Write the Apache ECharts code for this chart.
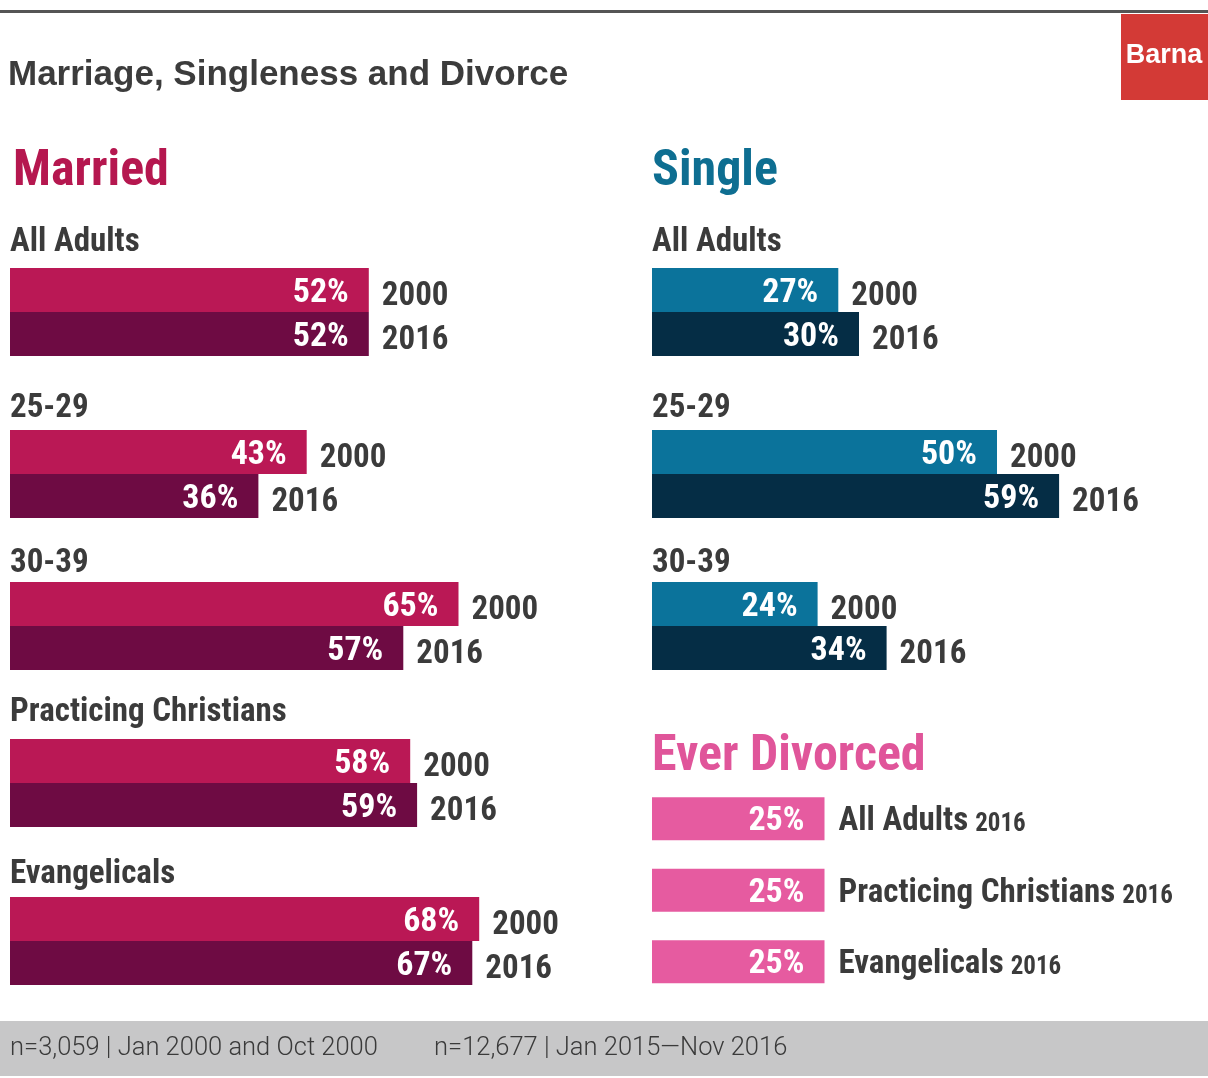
<!DOCTYPE html>
<html>
<head>
<meta charset="utf-8">
<script src="https://cdn.jsdelivr.net/npm/echarts@6/dist/echarts.min.js"></script>
<style>html,body{margin:0;padding:0;background:#fff}#c{width:1208px;height:1078px}</style>
</head>
<body>
<div id="c"></div>
<script>
// ---- data ----
const years = ['2000', '2016'];
const marriedGroups = ['All Adults', '25-29', '30-39', 'Practicing Christians', 'Evangelicals'];
const married2000 = [52, 43, 65, 58, 68];
const married2016 = [52, 36, 57, 59, 67];
const singleGroups = ['All Adults', '25-29', '30-39'];
const single2000 = [27, 50, 24];
const single2016 = [30, 59, 34];
const divorcedGroups = ['All Adults', 'Practicing Christians', 'Evangelicals'];
const divorced2016 = [25, 25, 25];
const divorcedYear = '2016';
const footerNotes = ['n=3,059 | Jan 2000 and Oct 2000', 'n=12,677 | Jan 2015\u2014Nov 2016'];

// ---- layout / style ----
const COND = "'Liberation Sans Narrow', 'Roboto Condensed', 'DejaVu Sans Condensed', sans-serif";
const DARK = '#3b3b3b';
const C = {
  m2000: '#BA1855', m2016: '#6E0B43',
  s2000: '#0B739B', s2016: '#052D45',
  div: '#E65BA0',
  mTitle: '#B5174F', sTitle: '#0E6E91', dTitle: '#E0559A'
};
const BAR_H = 44;
const AXIS_MAX = 80;
const SCALE_W = 552; // px for AXIS_MAX %
const marriedTops = [268, 430, 582, 739, 897];
const marriedLabelY = [243, 409, 564, 713, 875];
const singleTops = [268, 430, 582];
const singleLabelY = [243, 409, 564];

const grids = [], xAxes = [], yAxes = [], series = [], graphics = [];

function addGroup(left, top, v2000, v2016, c2000, c2016) {
  const gi = grids.length;
  grids.push({ left: left, top: top, width: SCALE_W, height: BAR_H * 2, containLabel: false });
  xAxes.push({ gridIndex: gi, type: 'value', min: 0, max: AXIS_MAX, show: false });
  yAxes.push({ gridIndex: gi, type: 'category', data: years, inverse: true, show: false });
  series.push({
    type: 'bar', xAxisIndex: gi, yAxisIndex: gi, barWidth: BAR_H, barGap: '-100%',
    data: [{ value: v2000, itemStyle: { color: c2000 } }, { value: v2016, itemStyle: { color: c2016 } }],
    label: { show: true, position: 'insideRight', distance: 20, formatter: '{c}%', color: '#fff',
      fontFamily: COND, fontWeight: 'bold', fontSize: 34, offset: [0, 3] },
    silent: true, animation: false
  });
  series.push({
    type: 'bar', xAxisIndex: gi, yAxisIndex: gi, barWidth: BAR_H, barGap: '-100%',
    data: [v2000, v2016], itemStyle: { color: 'rgba(0,0,0,0)' },
    label: { show: true, position: 'right', distance: 13, formatter: '{b}', color: DARK,
      fontFamily: COND, fontWeight: 'bold', fontSize: 33, offset: [0, 7] },
    silent: true, animation: false
  });
}

function txt(x, y, text, size, color, family, weight, align) {
  graphics.push({ type: 'text', silent: true, style: {
    x: x, y: y, text: text, fill: color, align: align || 'left', verticalAlign: 'middle',
    font: (weight || 'bold') + ' ' + size + 'px ' + family } });
}

marriedGroups.forEach((g, i) => {
  addGroup(10, marriedTops[i], married2000[i], married2016[i], C.m2000, C.m2016);
  txt(10, marriedLabelY[i], g, 33, DARK, COND);
});
singleGroups.forEach((g, i) => {
  addGroup(652, singleTops[i], single2000[i], single2016[i], C.s2000, C.s2016);
  txt(652, singleLabelY[i], g, 33, DARK, COND);
});

// divorced
(function () {
  const gi = grids.length;
  grids.push({ left: 652, top: 783, width: SCALE_W, height: 214.5 });
  xAxes.push({ gridIndex: gi, type: 'value', min: 0, max: AXIS_MAX, show: false });
  yAxes.push({ gridIndex: gi, type: 'category', data: divorcedGroups, inverse: true, show: false });
  series.push({
    type: 'bar', xAxisIndex: gi, yAxisIndex: gi, barWidth: 43, data: divorced2016,
    itemStyle: { color: C.div }, silent: true, animation: false,
    label: { show: true, position: 'insideRight', distance: 20, formatter: '{c}%', color: '#fff',
      fontFamily: COND, fontWeight: 'bold', fontSize: 34, offset: [0, 3] },
  });
  series.push({
    type: 'bar', xAxisIndex: gi, yAxisIndex: gi, barWidth: 43, barGap: '-100%', data: divorced2016,
    itemStyle: { color: 'rgba(0,0,0,0)' }, silent: true, animation: false,
    label: { show: true, position: 'right', distance: 14, offset: [0, 3],
      formatter: p => '{a|' + p.name + '}{b|' + divorcedYear + '}',
      rich: {
        a: { fontFamily: COND, fontWeight: 'bold', fontSize: 33, color: DARK },
        b: { fontFamily: COND, fontWeight: 'bold', fontSize: 25, color: DARK, padding: [6, 0, 0, 7] }
      } }
  });
})();

// static decoration
graphics.unshift(
  { type: 'rect', silent: true, shape: { x: 0, y: 10, width: 1208, height: 3 }, style: { fill: '#555555' } },
  { type: 'rect', silent: true, shape: { x: 1121, y: 14, width: 87, height: 86 }, style: { fill: '#D33A36' } },
  { type: 'rect', silent: true, shape: { x: 0, y: 1021, width: 1208, height: 55 }, style: { fill: '#C7C7C8' } }
);
txt(1164, 56, 'Barna', 27, '#ffffff', "'Liberation Sans', Arial, sans-serif", 'bold', 'center');
txt(8, 75, 'Marriage, Singleness and Divorce', 35, '#3c3c3c', "'Liberation Sans', Arial, sans-serif");
txt(13, 172, 'Married', 50, C.mTitle, COND);
txt(652, 172, 'Single', 50, C.sTitle, COND);
txt(652, 757, 'Ever Divorced', 50, C.dTitle, COND);
txt(10, 1049, footerNotes[0], 25.5, '#3a3a3a', "Roboto, sans-serif", '300');
txt(434, 1049, footerNotes[1], 25.5, '#3a3a3a', "Roboto, sans-serif", '300');

const chart = echarts.init(document.getElementById('c'), null, { renderer: 'canvas' });
chart.setOption({
  animation: false,
  backgroundColor: '#ffffff',
  grid: grids, xAxis: xAxes, yAxis: yAxes, series: series,
  graphic: { elements: graphics }
});
</script>
</body>
</html>
